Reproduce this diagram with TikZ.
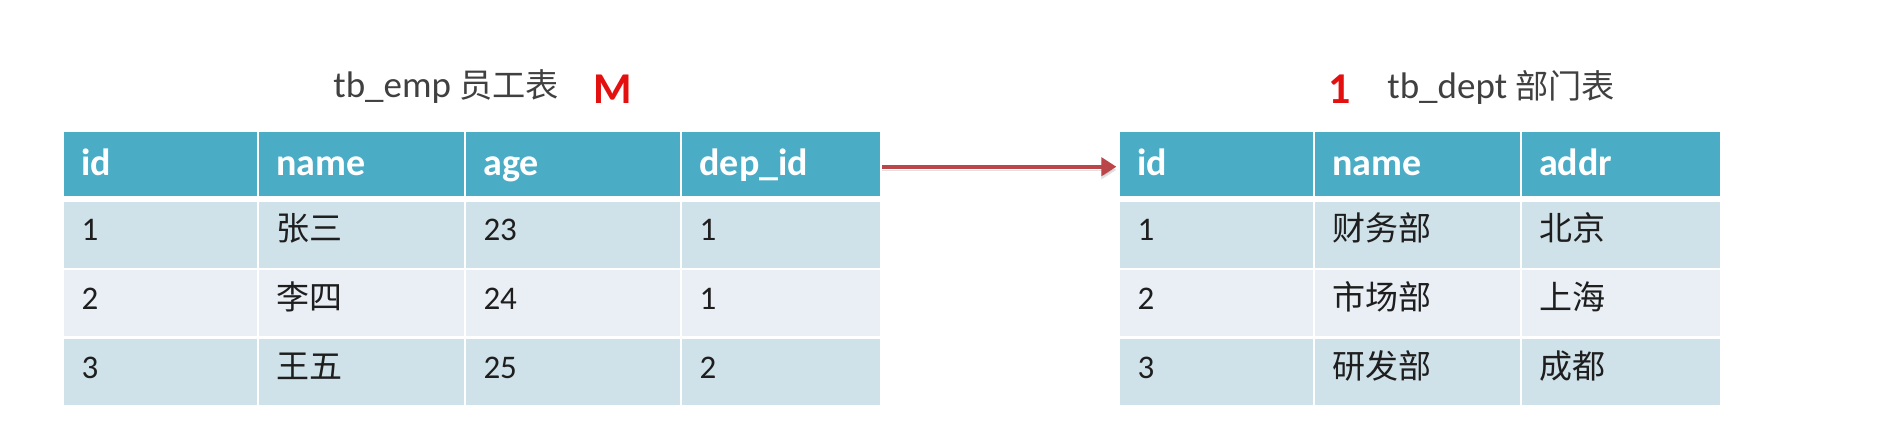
\documentclass[tikz,border=0pt]{standalone}
\usepackage{xcolor}
\usepackage{fontspec}
\setmainfont{Carlito}
\newfontfamily\cjk{Noto Sans CJK SC}
\usepackage{tikz}
\usetikzlibrary{arrows.meta,positioning}
\definecolor{headblue}{RGB}{75,172,198}
\definecolor{bandone}{RGB}{208,226,233}
\definecolor{bandtwo}{RGB}{233,239,245}
\definecolor{linkred}{RGB}{186,70,74}
\definecolor{markred}{RGB}{228,16,16}
\definecolor{titlegray}{RGB}{64,64,64}
\definecolor{celltext}{RGB}{30,30,30}

\begin{document}
\begin{tikzpicture}[x=0.5pt, y=-0.5pt,
    head/.style={rectangle, fill=headblue, text=white, inner xsep=8.75pt, align=left,
                 minimum height=32pt, text height=13.3pt, text depth=2pt,
                 font=\fontsize{19}{21}\selectfont\bfseries},
    bandA/.style={rectangle, fill=bandone, text=celltext, inner xsep=8.75pt, align=left,
                  minimum height=33pt, text height=10pt, text depth=4pt,
                  font=\fontsize{16.5}{18}\selectfont},
    bandB/.style={bandA, fill=bandtwo},
    c1/.style={text width=78.75pt},
    c2/.style={text width=84.75pt},
    c3/.style={text width=89.25pt},
    c4/.style={text width=81.5pt},
    tabletitle/.style={anchor=base west, inner sep=0pt, text=titlegray, font=\fontsize{18.5}{20}\selectfont},
    redmark/.style={anchor=base west, inner sep=0pt, text=markred, font=\fontsize{22}{24}\selectfont\bfseries},
    arrow/.style={-{Triangle[length=7.5pt, width=9pt]}, line width=2.1pt, linkred,
                  preaction={draw=black, opacity=0.12, transform canvas={yshift=-1.6pt}}}
]
\useasboundingbox (0,0) rectangle (1888,425);

% Titles
\node[tabletitle] (emptitle) at (333,97) {tb\_emp {\fontsize{16.6}{18}\selectfont\cjk 员工表}};
\node[redmark] (many) at (593,103) {M};
\node[redmark] (one) at (1328,103) {1};
\node[tabletitle] (depttitle) at (1387,98) {tb\_dept {\fontsize{16.6}{18}\selectfont\cjk 部门表}};

% Employee table
\node[head, c1] (eh1) at (160.25,163.7) {id};
\node[head, c2] (eh2) at (361.25,163.7) {name};
\node[head, c3] (eh3) at (572.75,163.7) {age};
\node[head, c4] (eh4) at (781,163.7) {dep\_id};

\node[bandA, c1] (e11) at (160.25,234.7) {1};
\node[bandA, c2] (e12) at (361.25,234.7) {\cjk 张三};
\node[bandA, c3] (e13) at (572.75,234.7) {23};
\node[bandA, c4] (e14) at (781,234.7) {1};

\node[bandB, c1] (e21) at (160.25,303) {2};
\node[bandB, c2] (e22) at (361.25,303) {\cjk 李四};
\node[bandB, c3] (e23) at (572.75,303) {24};
\node[bandB, c4] (e24) at (781,303) {1};

\node[bandA, c1] (e31) at (160.25,372) {3};
\node[bandA, c2] (e32) at (361.25,372) {\cjk 王五};
\node[bandA, c3] (e33) at (572.75,372) {25};
\node[bandA, c4] (e34) at (781,372) {2};

% Department table
\node[head, c1] (dh1) at (1216.25,163.7) {id};
\node[head, c2] (dh2) at (1417.25,163.7) {name};
\node[head, c4] (dh3) at (1620.6,163.7) {addr};

\node[bandA, c1] (d11) at (1216.25,234.7) {1};
\node[bandA, c2] (d12) at (1417.25,234.7) {\cjk 财务部};
\node[bandA, c4] (d13) at (1620.6,234.7) {\cjk 北京};

\node[bandB, c1] (d21) at (1216.25,303) {2};
\node[bandB, c2] (d22) at (1417.25,303) {\cjk 市场部};
\node[bandB, c4] (d23) at (1620.6,303) {\cjk 上海};

\node[bandA, c1] (d31) at (1216.25,372) {3};
\node[bandA, c2] (d32) at (1417.25,372) {\cjk 研发部};
\node[bandA, c4] (d33) at (1620.6,372) {\cjk 成都};

% Foreign key
\draw[arrow, shorten <=0.8pt, shorten >=1.6pt] ([yshift=-1.5pt]eh4.east) -- ([yshift=-1.5pt]dh1.west);

\end{tikzpicture}
\end{document}
